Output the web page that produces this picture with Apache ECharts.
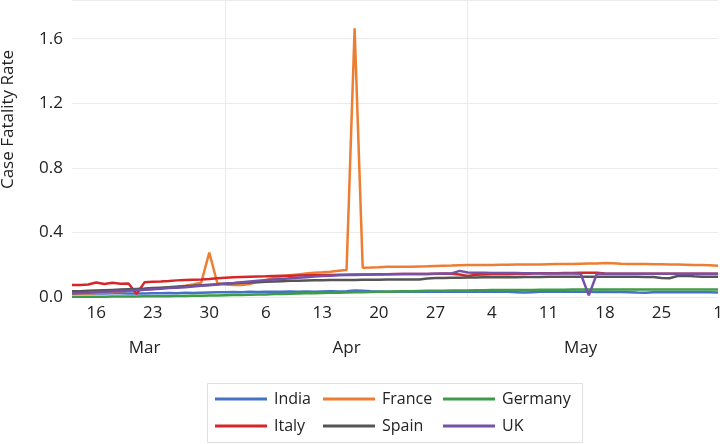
<!DOCTYPE html>
<html>
<head>
<meta charset="utf-8">
<script src="https://cdn.jsdelivr.net/npm/echarts@6/dist/echarts.min.js"></script>
<style>
    html, body { margin: 0; padding: 0; background: #fff; }
    #chart-box { width: 722px; height: 444px; }
</style>
</head>
<body>
<div id="chart-box"></div>
<script>
// 日期：3月13日 到 6月1日，每天一个点
var monthDays = [['03', 13, 31], ['04', 1, 30], ['05', 1, 31], ['06', 1, 1]];
var dates = [];
monthDays.forEach(function (m) {
    for (var d = m[1]; d <= m[2]; d++) {
        dates.push('2020-' + m[0] + '-' + (d < 10 ? '0' + d : d));
    }
});

// 月份标签位置和月份分隔线
var monthLabels = { 9: 'Mar', 34: 'Apr', 63: 'May' };
var monthStarts = [19, 49];

var india = [
    0.020, 0.022, 0.021, 0.023, 0.022, 0.024, 0.023, 0.022, 0.021, 0.022,
    0.023, 0.024, 0.025, 0.024, 0.026, 0.025, 0.027, 0.028, 0.029, 0.030,
    0.031, 0.030, 0.032, 0.031, 0.033, 0.032, 0.033, 0.034, 0.033, 0.034,
    0.033, 0.034, 0.035, 0.034, 0.036, 0.040, 0.038, 0.035, 0.034, 0.033,
    0.033, 0.034, 0.033, 0.033, 0.034, 0.033, 0.033, 0.034, 0.033, 0.033,
    0.033, 0.034, 0.033, 0.033, 0.032, 0.030, 0.028, 0.030, 0.032, 0.033,
    0.033, 0.032, 0.033, 0.032, 0.032, 0.031, 0.032, 0.031, 0.031, 0.030,
    0.028, 0.027, 0.029, 0.030, 0.030, 0.029, 0.030, 0.029, 0.029, 0.029, 0.028
];
var france = [
    0.020, 0.022, 0.021, 0.025, 0.028, 0.030, 0.035, 0.039, 0.040, 0.045,
    0.050, 0.055, 0.060, 0.064, 0.070, 0.078, 0.088, 0.276, 0.085, 0.078,
    0.075, 0.074, 0.080, 0.095, 0.105, 0.118, 0.128, 0.135, 0.140, 0.145,
    0.150, 0.153, 0.157, 0.162, 0.167, 1.665, 0.181, 0.182, 0.184, 0.187,
    0.187, 0.188, 0.188, 0.189, 0.190, 0.192, 0.194, 0.195, 0.197, 0.198,
    0.198, 0.199, 0.199, 0.200, 0.200, 0.201, 0.201, 0.202, 0.202, 0.203,
    0.204, 0.204, 0.205, 0.206, 0.207, 0.208, 0.210, 0.209, 0.206, 0.205,
    0.205, 0.204, 0.203, 0.203, 0.202, 0.201, 0.200, 0.199, 0.198, 0.196, 0.194
];
var germany = [
    0.002, 0.002, 0.002, 0.002, 0.002, 0.003, 0.003, 0.003, 0.003, 0.004,
    0.004, 0.005, 0.005, 0.006, 0.006, 0.007, 0.008, 0.009, 0.010, 0.011,
    0.012, 0.013, 0.014, 0.015, 0.016, 0.018, 0.019, 0.020, 0.022, 0.023,
    0.024, 0.025, 0.026, 0.027, 0.028, 0.029, 0.030, 0.031, 0.032, 0.033,
    0.034, 0.035, 0.036, 0.037, 0.038, 0.039, 0.039, 0.040, 0.041, 0.041,
    0.042, 0.042, 0.043, 0.043, 0.043, 0.044, 0.044, 0.044, 0.045, 0.045,
    0.045, 0.045, 0.046, 0.046, 0.046, 0.046, 0.046, 0.046, 0.046, 0.046,
    0.046, 0.047, 0.047, 0.047, 0.047, 0.047, 0.047, 0.047, 0.047, 0.047, 0.047
];
var italy = [
    0.074, 0.075, 0.077, 0.090, 0.080, 0.088, 0.082, 0.084, 0.019, 0.092,
    0.094, 0.096, 0.099, 0.103, 0.105, 0.107, 0.109, 0.112, 0.116, 0.120,
    0.122, 0.124, 0.126, 0.127, 0.128, 0.130, 0.131, 0.132, 0.133, 0.134,
    0.135, 0.136, 0.137, 0.138, 0.138, 0.139, 0.140, 0.140, 0.141, 0.141,
    0.142, 0.142, 0.143, 0.143, 0.143, 0.144, 0.144, 0.144, 0.140, 0.130,
    0.138, 0.140, 0.141, 0.141, 0.141, 0.142, 0.142, 0.145, 0.147, 0.147,
    0.147, 0.148, 0.148, 0.150, 0.150, 0.150, 0.146, 0.144, 0.144, 0.144,
    0.144, 0.144, 0.144, 0.144, 0.144, 0.144, 0.144, 0.144, 0.144, 0.144, 0.144
];
var spain = [
    0.035, 0.036, 0.038, 0.040, 0.042, 0.044, 0.046, 0.048, 0.050, 0.052,
    0.055, 0.058, 0.061, 0.064, 0.067, 0.070, 0.073, 0.076, 0.079, 0.082,
    0.085, 0.088, 0.090, 0.092, 0.094, 0.096, 0.098, 0.100, 0.101, 0.102,
    0.103, 0.104, 0.105, 0.105, 0.106, 0.106, 0.107, 0.107, 0.107, 0.108,
    0.108, 0.108, 0.108, 0.109, 0.115, 0.118, 0.118, 0.119, 0.120, 0.121,
    0.121, 0.122, 0.122, 0.123, 0.123, 0.123, 0.124, 0.124, 0.124, 0.125,
    0.125, 0.125, 0.125, 0.125, 0.125, 0.125, 0.125, 0.125, 0.125, 0.125,
    0.125, 0.124, 0.124, 0.118, 0.116, 0.130, 0.132, 0.128, 0.126, 0.126, 0.126
];
var uk = [
    0.022, 0.025, 0.027, 0.030, 0.032, 0.034, 0.037, 0.040, 0.043, 0.045,
    0.048, 0.051, 0.055, 0.058, 0.061, 0.065, 0.069, 0.073, 0.078, 0.083,
    0.087, 0.092, 0.096, 0.100, 0.104, 0.108, 0.112, 0.116, 0.119, 0.123,
    0.127, 0.130, 0.132, 0.134, 0.136, 0.137, 0.138, 0.139, 0.140, 0.141,
    0.141, 0.142, 0.142, 0.143, 0.143, 0.144, 0.145, 0.146, 0.162, 0.152,
    0.150, 0.150, 0.149, 0.149, 0.148, 0.148, 0.147, 0.147, 0.146, 0.146,
    0.145, 0.145, 0.145, 0.144, 0.010, 0.144, 0.144, 0.144, 0.144, 0.144,
    0.144, 0.144, 0.144, 0.144, 0.144, 0.144, 0.144, 0.144, 0.144, 0.144, 0.144
];

var countries = ['India', 'France', 'Germany', 'Italy', 'Spain', 'UK'];
var colors = ['#4472c4', '#ed7d31', '#3d9c48', '#d62728', '#555555', '#7552a8'];
var values = [india, france, germany, italy, spain, uk];

var chart = echarts.init(document.getElementById('chart-box'));

var fontName = 'Open Sans';
var legendBase = {
    orient: 'vertical',
    top: 390,
    padding: 0,
    icon: 'rect',
    itemWidth: 52,
    itemHeight: 3,
    itemGap: 9,
    textStyle: { color: '#222', fontSize: 16, fontFamily: fontName, lineHeight: 18, padding: [0, 0, 0, 2] }
};

var option = {
    animation: false,
    color: colors,
    textStyle: { fontFamily: fontName },
    grid: {
        left: 72,
        right: 4,
        top: 0,
        bottom: 147,
        outerBoundsMode: 'none'
    },
    legend: [
        Object.assign({ left: 215, data: ['India', 'Italy'] }, legendBase),
        Object.assign({ left: 323, data: ['France', 'Spain'] }, legendBase),
        Object.assign({ left: 443, data: ['Germany', 'UK'] }, legendBase)
    ],
    graphic: [{
        type: 'rect',
        shape: { x: 207.5, y: 383.5, width: 375, height: 59 },
        style: { fill: 'none', stroke: '#e0e0e0', lineWidth: 1 },
        silent: true
    }],
    xAxis: [{
        type: 'category',
        boundaryGap: false,
        data: dates,
        axisLine: { show: false },
        axisTick: { show: false },
        splitLine: { show: false },
        axisLabel: {
            color: '#222',
            fontSize: 17,
            margin: 8,
            interval: function (idx) { return (idx - 3) % 7 === 0; },
            formatter: function (v) { return String(parseInt(v.split('-')[2], 10)); }
        }
    }, {
        type: 'category',
        boundaryGap: false,
        position: 'bottom',
        offset: 35,
        data: dates,
        axisLine: { show: false },
        axisTick: { show: false },
        splitLine: {
            show: true,
            interval: function (idx) { return monthStarts.indexOf(idx) >= 0; },
            lineStyle: { color: '#ebebeb', width: 1 }
        },
        axisLabel: {
            color: '#222',
            fontSize: 17,
            interval: function (idx) { return monthLabels[idx] !== undefined; },
            formatter: function (v, idx) { return monthLabels[idx] || ''; }
        }
    }],
    yAxis: {
        type: 'value',
        min: 0,
        max: 1.84,
        interval: 0.4,
        name: 'Case Fatality Rate',
        nameLocation: 'middle',
        nameGap: 55,
        nameTextStyle: { color: '#222', fontSize: 17, padding: [0, 0, 0, 58] },
        axisLine: { show: false },
        axisTick: { show: false },
        axisLabel: {
            color: '#222',
            fontSize: 17,
            margin: 9,
            showMaxLabel: false,
            formatter: function (v) { return v.toFixed(1); }
        },
        splitLine: { lineStyle: { color: '#ebebeb', width: 1 } }
    },
    series: countries.map(function (name, i) {
        return {
            name: name,
            type: 'line',
            data: values[i],
            showSymbol: false,
            symbol: 'none',
            lineStyle: { width: 2.5 }
        };
    })
};

chart.setOption(option);
</script>
</body>
</html>
